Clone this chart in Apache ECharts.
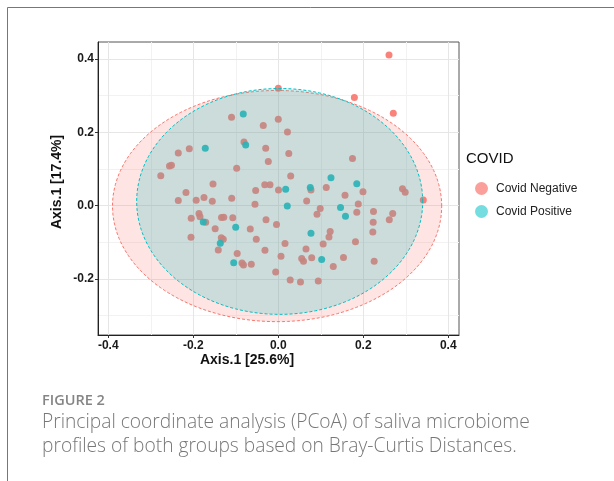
<!DOCTYPE html>
<html><head><meta charset="utf-8">
<script src="https://cdn.jsdelivr.net/npm/echarts@6/dist/echarts.min.js"></script>
<style>html,body{margin:0;padding:0;background:#fff}#c{width:614px;height:481px}</style>
</head><body><div id="c"></div>
<script>
// ---- data (PCoA coordinates) ----
const groupNames = ['Covid Negative', 'Covid Positive'];
const covidNegative = [
  [0.2605,0.411],[0.000,0.320],[0.179,0.295],[0.2706,0.252],[-0.110,0.241],[-0.0353,0.219],
  [0.000,0.236],[0.0216,0.201],[-0.0807,0.174],[-0.0296,0.1565],[-0.2094,0.1554],[-0.2353,0.1437],
  [0.0247,0.1424],[-0.0235,0.1205],[0.1746,0.1287],[-0.256,0.1083],[-0.2513,0.1102],[-0.2765,0.0818],
  [-0.0979,0.102],[0.0292,0.081],[-0.1536,0.0592],[-0.2172,0.036],[-0.0318,0.057],[-0.0195,0.057],
  [-0.0532,0.0415],[0.0005,0.0428],[0.0769,0.0428],[0.1129,0.0496],[0.157,0.0286],[0.1993,0.0382],
  [0.2922,0.0461],[0.2986,0.0368],[0.3412,0.0155],[-0.2353,0.0142],[-0.1932,0.015],[-0.1748,0.0224],
  [-0.1553,0.0123],[-0.1096,0.0202],[-0.0548,0.0038],[0.0668,0.0128],[0.1882,0.0046],[0.0986,-0.0076],
  [0.0911,-0.0235],[0.1847,-0.0177],[0.224,-0.0158],[0.2692,-0.0213],[0.2612,-0.0382],[0.2233,-0.045],
  [0.2224,-0.0717],[0.1816,-0.0984],[0.1534,-0.1413],[0.2256,-0.1516],[-0.1866,-0.0213],[-0.1842,-0.0303],
  [-0.2049,-0.0344],[-0.1708,-0.0453],[-0.1336,-0.0322],[-0.1282,-0.0316],[-0.1071,-0.0327],[-0.0289,-0.0385],
  [-0.0042,-0.0513],[-0.1485,-0.063],[-0.0659,-0.0635],[-0.2054,-0.0859],[-0.1341,-0.0873],[-0.1294,-0.0916],
  [-0.0518,-0.0914],[0.0158,-0.1031],[-0.1412,-0.1208],[-0.0967,-0.1304],[-0.0313,-0.1214],[-0.0854,-0.1563],
  [-0.0819,-0.1617],[-0.0635,-0.1598],[-0.0061,-0.1808],[0.0064,-0.138],[0.0551,-0.144],[0.0593,-0.1513],
  [0.0786,-0.1418],[0.0652,-0.1181],[0.1056,-0.1044],[0.1221,-0.0704],[0.1193,-0.0854],[0.1294,-0.1658],
  [0.028,-0.2026],[0.0522,-0.2081],[0.0941,-0.2053]
];
const covidPositive = [
  [-0.0824,0.2501],[-0.0767,0.1655],[-0.1718,0.1565],[0.124,0.0761],[0.1847,0.060],[0.0174,0.0447],
  [0.0753,0.0496],[0.0212,-0.0008],[0.1464,-0.0049],[0.1581,-0.0289],[-0.1765,-0.0445],[-0.1002,-0.0589],
  [-0.1365,-0.1025],[0.0769,-0.0753],[-0.1049,-0.1557],[0.1021,-0.1467]
];
// ellipse: [centerX, centerY, semiAxisX, semiAxisY]
const ellipseNegative = [-0.0028, -0.001, 0.3873, 0.3152];
const ellipsePositive = [0.0033, 0.0117, 0.3365, 0.308];
// axis ticks
const xTicks = [-0.4, -0.2, 0, 0.2, 0.4];
const yTicks = [-0.2, 0, 0.2, 0.4];
const xMinor = [-0.3, -0.1, 0.1, 0.3];
const yMinor = [-0.3, -0.1, 0.1, 0.3];
const xTitle = 'Axis.1 [25.6%]';
const yTitle = 'Axis.1 [17.4%]';
const legendTitle = 'COVID';
const figLabel = 'FIGURE 2';
const captionLines = [
  'Principal coordinate analysis (PCoA) of saliva microbiome',
  'profiles of both groups based on Bray-Curtis Distances.'
];

const RED = '#F8766D', TEAL = '#00BFC4';
const chart = echarts.init(document.getElementById('c'), null, {renderer: 'canvas'});

function ellipseRender(fill, stroke) {
  return function (params, api) {
    const cx = api.value(0), cy = api.value(1), a = api.value(2), b = api.value(3);
    const pts = [];
    const N = 200;
    for (let i = 0; i < N; i++) {
      const t = i / N * Math.PI * 2;
      pts.push(api.coord([cx + a * Math.cos(t), cy + b * Math.sin(t)]));
    }
    return {
      type: 'polygon',
      shape: {points: pts},
      style: {fill: fill, stroke: stroke, lineWidth: 1, lineDash: [3, 2]}
    };
  };
}

const gridLines = []
  .concat(xMinor.map(v => ({xAxis: v, lineStyle: {color: '#F2F2F2', width: 1, type: 'solid'}})))
  .concat(yMinor.map(v => ({yAxis: v, lineStyle: {color: '#F2F2F2', width: 1, type: 'solid'}})))
  .concat(xTicks.map(v => ({xAxis: v, lineStyle: {color: '#E6E6E6', width: 1, type: 'solid'}})))
  .concat(yTicks.map(v => ({yAxis: v, lineStyle: {color: '#E6E6E6', width: 1, type: 'solid'}})));

const fmt = v => (Math.abs(v) < 1e-9 ? 0 : v).toFixed(1);
const axisFont = {fontFamily: 'Liberation Sans', fontWeight: 'bold', fontSize: 12, color: '#1a1a1a'};

chart.setOption({
  animation: false,
  backgroundColor: '#fff',
  grid: {left: 98, right: 155, top: 42, bottom: 146, show: true, borderColor: '#555', borderWidth: 1, containLabel: false},
  xAxis: {
    type: 'value', min: -0.4242, max: 0.4252,
    axisLine: {show: true, onZero: false, lineStyle: {color: '#222', width: 1}},
    axisTick: {show: true, length: 3, lineStyle: {color: '#333'}, customValues: xTicks},
    axisLabel: Object.assign({margin: 5, formatter: fmt, customValues: xTicks}, axisFont),
    splitLine: {show: false}
  },
  yAxis: {
    type: 'value', min: -0.3526, max: 0.4464,
    axisLine: {show: true, onZero: false, lineStyle: {color: '#222', width: 1}},
    axisTick: {show: true, length: 3, lineStyle: {color: '#333'}, customValues: yTicks},
    axisLabel: Object.assign({margin: 4, formatter: fmt, customValues: yTicks}, axisFont),
    splitLine: {show: false}
  },
  legend: {
    orient: 'vertical', left: 470, top: 177, itemWidth: 13, itemHeight: 13, itemGap: 10,
    icon: 'circle',
    textStyle: {fontFamily: 'Liberation Sans', fontSize: 12, color: '#222', padding: [0, 0, 0, 3]},
    data: [
      {name: groupNames[0], itemStyle: {color: 'rgba(248,118,109,0.78)'}},
      {name: groupNames[1], itemStyle: {color: 'rgba(0,191,196,0.6)'}}
    ]
  },
  series: [
    {
      type: 'line', name: 'grid', data: [], silent: true, z: 0,
      markLine: {silent: true, z: 0, symbol: ['none', 'none'], label: {show: false}, animation: false, data: gridLines}
    },
    {
      type: 'scatter', name: groupNames[0], data: covidNegative, symbolSize: 7, z: 2,
      itemStyle: {color: RED, opacity: 0.9}
    },
    {
      type: 'scatter', name: groupNames[1], data: covidPositive, symbolSize: 7, z: 2,
      itemStyle: {color: TEAL, opacity: 0.9}
    },
    {
      type: 'custom', name: 'ellipse-neg', data: [ellipseNegative], z: 3, silent: true, clip: false,
      encode: {x: 0, y: 1},
      renderItem: ellipseRender('rgba(248,118,109,0.2)', RED)
    },
    {
      type: 'custom', name: 'ellipse-pos', data: [ellipsePositive], z: 4, silent: true, clip: false,
      encode: {x: 0, y: 1},
      renderItem: ellipseRender('rgba(0,191,196,0.2)', TEAL)
    }
  ],
  graphic: [
    {type: 'line', shape: {x1: 7.5, y1: 7.5, x2: 614, y2: 7.5}, style: {stroke: '#777', lineWidth: 1}, silent: true},
    {type: 'line', shape: {x1: 7.5, y1: 7.5, x2: 7.5, y2: 481}, style: {stroke: '#777', lineWidth: 1}, silent: true},
    {type: 'text', left: 466, top: 151, style: {text: legendTitle, fontFamily: 'Liberation Sans', fontSize: 15, fill: '#111'}},
    {type: 'text', x: 247, y: 360, style: {text: xTitle, fontFamily: 'Liberation Sans', fontWeight: 'bold', fontSize: 14, fill: '#111', align: 'center', verticalAlign: 'middle'}},
    {type: 'text', x: 57, y: 182, rotation: Math.PI / 2, style: {text: yTitle, fontFamily: 'Liberation Sans', fontWeight: 'bold', fontSize: 14, fill: '#111', align: 'center', verticalAlign: 'middle'}},
    {type: 'text', x: 42, y: 401, style: {text: figLabel, fontFamily: 'Open Sans', fontWeight: 600, fontSize: 14.5, fill: '#858585', verticalAlign: 'middle'}},
    {type: 'text', x: 42, y: 423, style: {text: captionLines[0], fontFamily: 'Open Sans', fontWeight: 300, fontSize: 19.2, fill: '#777777', verticalAlign: 'middle'}},
    {type: 'text', x: 42, y: 447, style: {text: captionLines[1], fontFamily: 'Open Sans', fontWeight: 300, fontSize: 19.2, fill: '#777777', verticalAlign: 'middle'}}
  ]
});
</script>
</body></html>
